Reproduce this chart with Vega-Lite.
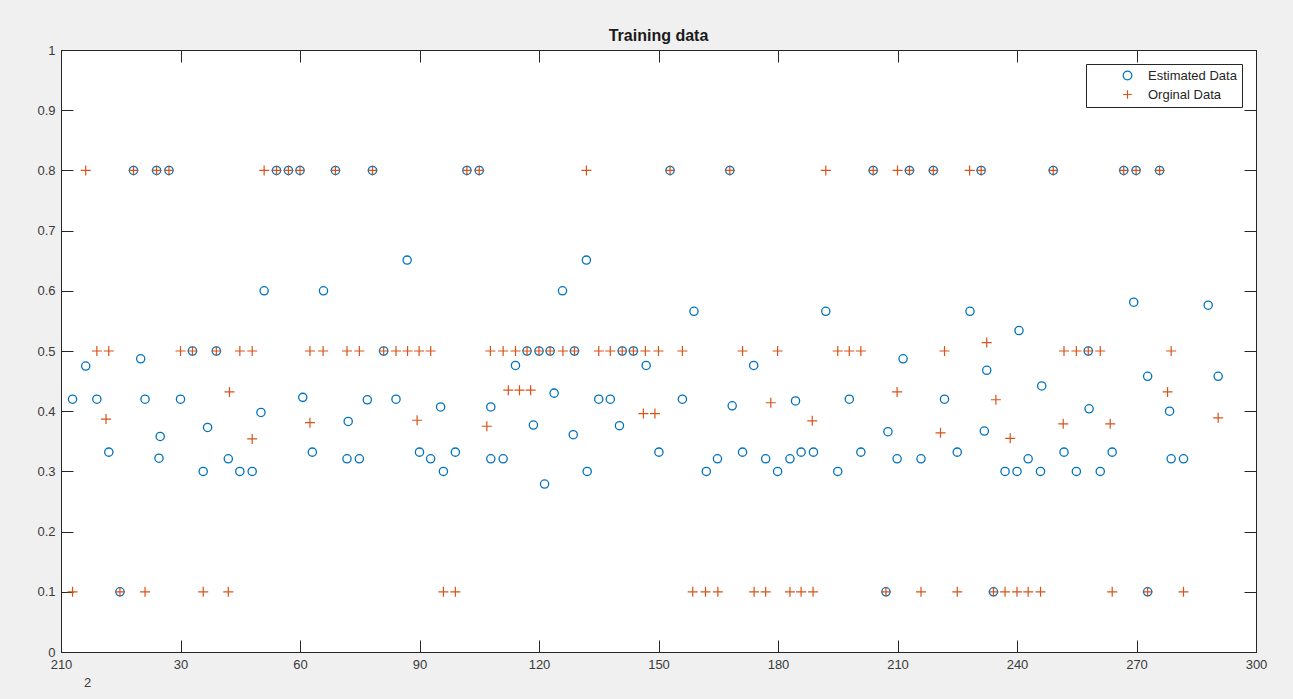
{
  "$schema": "https://vega.github.io/schema/vega-lite/v6.json",
  "width": 1195,
  "height": 602,
  "autosize": "none",
  "padding": {"left": 61, "top": 50, "right": 37, "bottom": 47},
  "background": "#f0f0f0",
  "title": {"text": "Training data", "fontSize": 16, "fontWeight": "bold", "font": "Liberation Sans", "color": "#1a1a1a", "offset": 0},
  "config": {
    "view": {"stroke": "#262626", "strokeWidth": 1, "fill": "white"},
    "axis": {
      "grid": false,
      "domainColor": "#262626",
      "tickColor": "#262626",
      "labelColor": "#3a3a3a",
      "labelFont": "Liberation Sans",
      "labelFontSize": 13,
      "labelFlush": false,
      "labelOverlap": false,
      "tickSize": -12,
      "titleFont": "Liberation Sans"
    },
    "legend": {
      "orient": "top-right",
      "offset": 14,
      "title": null,
      "strokeColor": "#262626",
      "fillColor": "white",
      "padding": 5,
      "labelFont": "Liberation Sans",
      "labelFontSize": 13,
      "labelColor": "#262626",
      "symbolSize": 75,
      "symbolStrokeWidth": 1.2,
      "symbolOffset": 30,
      "labelOffset": 14,
      "rowPadding": 4,
      "cornerRadius": 0
    }
  },
  "datasets": {
    "est": [
      {"x":2.9,"y":0.42},{"x":6.2,"y":0.475},{"x":9,"y":0.42},{"x":12,"y":0.332},{"x":14.8,"y":0.1},{"x":18.2,"y":0.8},{"x":20,"y":0.487},{"x":21.1,"y":0.42},{"x":24,"y":0.8},{"x":24.6,"y":0.322},{"x":24.9,"y":0.358},{"x":27.1,"y":0.8},{"x":30,"y":0.42},{"x":33,"y":0.5},{"x":35.7,"y":0.3},{"x":36.8,"y":0.373},{"x":39,"y":0.5},{"x":42,"y":0.321},{"x":44.9,"y":0.3},{"x":48,"y":0.3},{"x":50.2,"y":0.398},{"x":51,"y":0.6},{"x":54.1,"y":0.8},{"x":57.1,"y":0.8},{"x":60,"y":0.8},{"x":60.7,"y":0.423},{"x":63.1,"y":0.332},{"x":65.9,"y":0.6},{"x":68.9,"y":0.8},{"x":71.8,"y":0.321},{"x":72.1,"y":0.383},{"x":74.9,"y":0.321},{"x":76.9,"y":0.419},{"x":78.2,"y":0.8},{"x":81,"y":0.5},{"x":84.1,"y":0.42},{"x":86.9,"y":0.651},{"x":90,"y":0.332},{"x":92.8,"y":0.321},{"x":95.3,"y":0.407},{"x":96,"y":0.3},{"x":99,"y":0.332},{"x":101.9,"y":0.8},{"x":105,"y":0.8},{"x":107.9,"y":0.407},{"x":107.9,"y":0.321},{"x":111,"y":0.321},{"x":114.1,"y":0.476},{"x":117,"y":0.5},{"x":118.6,"y":0.377},{"x":120,"y":0.5},{"x":121.4,"y":0.279},{"x":122.8,"y":0.5},{"x":123.8,"y":0.43},{"x":125.9,"y":0.6},{"x":128.6,"y":0.361},{"x":128.9,"y":0.5},{"x":131.9,"y":0.651},{"x":132.1,"y":0.3},{"x":135,"y":0.42},{"x":137.9,"y":0.42},{"x":140.2,"y":0.376},{"x":140.9,"y":0.5},{"x":143.7,"y":0.5},{"x":146.9,"y":0.476},{"x":150.1,"y":0.332},{"x":152.9,"y":0.8},{"x":156,"y":0.42},{"x":158.9,"y":0.566},{"x":162,"y":0.3},{"x":164.8,"y":0.321},{"x":167.9,"y":0.8},{"x":168.5,"y":0.409},{"x":171.1,"y":0.332},{"x":173.9,"y":0.476},{"x":176.9,"y":0.321},{"x":179.9,"y":0.3},{"x":183,"y":0.321},{"x":184.4,"y":0.417},{"x":185.8,"y":0.332},{"x":188.9,"y":0.332},{"x":192,"y":0.566},{"x":195,"y":0.3},{"x":197.9,"y":0.42},{"x":200.8,"y":0.332},{"x":203.9,"y":0.8},{"x":207.1,"y":0.1},{"x":207.6,"y":0.366},{"x":209.9,"y":0.321},{"x":211.4,"y":0.487},{"x":213,"y":0.8},{"x":215.9,"y":0.321},{"x":219,"y":0.8},{"x":221.8,"y":0.42},{"x":225,"y":0.332},{"x":228.2,"y":0.566},{"x":231,"y":0.8},{"x":231.8,"y":0.367},{"x":232.4,"y":0.468},{"x":234.1,"y":0.1},{"x":237,"y":0.3},{"x":240,"y":0.3},{"x":240.5,"y":0.534},{"x":242.8,"y":0.321},{"x":245.9,"y":0.3},{"x":246.2,"y":0.442},{"x":249.1,"y":0.8},{"x":251.8,"y":0.332},{"x":254.9,"y":0.3},{"x":257.9,"y":0.5},{"x":258.1,"y":0.404},{"x":260.9,"y":0.3},{"x":263.9,"y":0.332},{"x":266.8,"y":0.8},{"x":269.3,"y":0.581},{"x":269.9,"y":0.8},{"x":272.8,"y":0.458},{"x":272.8,"y":0.1},{"x":275.8,"y":0.8},{"x":278.3,"y":0.4},{"x":278.7,"y":0.321},{"x":281.8,"y":0.321},{"x":288,"y":0.576},{"x":290.5,"y":0.458}
    ],
    "orig": [
      {"x":2.9,"y":0.1},{"x":6.2,"y":0.8},{"x":9,"y":0.5},{"x":11.3,"y":0.387},{"x":12,"y":0.5},{"x":14.8,"y":0.1},{"x":18.2,"y":0.8},{"x":21.1,"y":0.1},{"x":24,"y":0.8},{"x":27.1,"y":0.8},{"x":30,"y":0.5},{"x":33,"y":0.5},{"x":35.7,"y":0.1},{"x":39,"y":0.5},{"x":42,"y":0.1},{"x":42.3,"y":0.432},{"x":44.9,"y":0.5},{"x":48,"y":0.5},{"x":48,"y":0.354},{"x":51,"y":0.8},{"x":54.1,"y":0.8},{"x":57.1,"y":0.8},{"x":60,"y":0.8},{"x":62.5,"y":0.5},{"x":62.5,"y":0.381},{"x":65.8,"y":0.5},{"x":68.9,"y":0.8},{"x":71.8,"y":0.5},{"x":74.9,"y":0.5},{"x":78.2,"y":0.8},{"x":81,"y":0.5},{"x":84.1,"y":0.5},{"x":87,"y":0.5},{"x":89.4,"y":0.385},{"x":89.9,"y":0.5},{"x":92.8,"y":0.5},{"x":96,"y":0.1},{"x":99,"y":0.1},{"x":101.9,"y":0.8},{"x":105,"y":0.8},{"x":106.9,"y":0.375},{"x":107.8,"y":0.5},{"x":111,"y":0.5},{"x":112.3,"y":0.435},{"x":114.1,"y":0.5},{"x":115.1,"y":0.435},{"x":117,"y":0.5},{"x":117.9,"y":0.435},{"x":120,"y":0.5},{"x":122.8,"y":0.5},{"x":126,"y":0.5},{"x":128.9,"y":0.5},{"x":131.9,"y":0.8},{"x":135,"y":0.5},{"x":137.9,"y":0.5},{"x":140.9,"y":0.5},{"x":143.7,"y":0.5},{"x":146.2,"y":0.396},{"x":146.7,"y":0.5},{"x":149.1,"y":0.396},{"x":150,"y":0.5},{"x":152.9,"y":0.8},{"x":156,"y":0.5},{"x":158.6,"y":0.1},{"x":161.8,"y":0.1},{"x":164.9,"y":0.1},{"x":167.9,"y":0.8},{"x":171.1,"y":0.5},{"x":174,"y":0.1},{"x":176.9,"y":0.1},{"x":178.2,"y":0.414},{"x":179.9,"y":0.5},{"x":183,"y":0.1},{"x":185.8,"y":0.1},{"x":188.6,"y":0.384},{"x":188.8,"y":0.1},{"x":192,"y":0.8},{"x":195,"y":0.5},{"x":197.9,"y":0.5},{"x":200.8,"y":0.5},{"x":203.9,"y":0.8},{"x":207.1,"y":0.1},{"x":209.9,"y":0.432},{"x":210,"y":0.8},{"x":213,"y":0.8},{"x":215.9,"y":0.1},{"x":219,"y":0.8},{"x":220.8,"y":0.364},{"x":221.8,"y":0.5},{"x":225,"y":0.1},{"x":228.1,"y":0.8},{"x":231,"y":0.8},{"x":232.4,"y":0.514},{"x":234.1,"y":0.1},{"x":234.7,"y":0.419},{"x":237,"y":0.1},{"x":238.3,"y":0.355},{"x":240,"y":0.1},{"x":242.8,"y":0.1},{"x":245.9,"y":0.1},{"x":249.1,"y":0.8},{"x":251.6,"y":0.379},{"x":251.8,"y":0.5},{"x":254.9,"y":0.5},{"x":257.9,"y":0.5},{"x":260.9,"y":0.5},{"x":263.4,"y":0.379},{"x":263.9,"y":0.1},{"x":266.8,"y":0.8},{"x":269.9,"y":0.8},{"x":272.8,"y":0.1},{"x":275.8,"y":0.8},{"x":277.8,"y":0.432},{"x":278.7,"y":0.5},{"x":281.8,"y":0.1},{"x":290.5,"y":0.389}
    ]
  },
  "layer": [
    {
      "data": {"name": "est"},
      "mark": {"type": "point", "filled": false, "strokeWidth": 1.3, "size": 68, "opacity": 1},
      "encoding": {
        "x": {"field": "x", "type": "quantitative",
          "scale": {"domain": [0, 300], "nice": false, "zero": false},
          "axis": {"orient": "bottom", "values": [0,30,60,90,120,150,180,210,240,270,300],
            "labelExpr": "datum.value == 0 ? '210' : datum.label", "labelPadding": 18,
            "title": "2", "titleX": 26, "titleY": 30, "titleBaseline": "middle", "titleAlign": "center",
            "titleFontWeight": "normal", "titleFontSize": 13, "titleColor": "#3a3a3a"}},
        "y": {"field": "y", "type": "quantitative",
          "scale": {"domain": [0, 1], "nice": false, "zero": false},
          "axis": {"orient": "left", "values": [0,0.1,0.2,0.3,0.4,0.5,0.6,0.7,0.8,0.9,1],
            "format": ".1~f", "labelPadding": 18, "title": null}},
        "color": {"datum": "Estimated Data", "type": "nominal",
          "scale": {"domain": ["Estimated Data", "Orginal Data"], "range": ["#0072BD", "#D95319"]}},
        "shape": {"datum": "Estimated Data", "type": "nominal",
          "scale": {"domain": ["Estimated Data", "Orginal Data"], "range": ["circle", "M-1,0H1M0,-1V1"]}}
      }
    },
    {
      "data": {"name": "orig"},
      "mark": {"type": "point", "filled": false, "strokeWidth": 1.2, "size": 100, "opacity": 1},
      "encoding": {
        "x": {"field": "x", "type": "quantitative",
          "axis": {"orient": "top", "values": [0,30,60,90,120,150,180,210,240,270,300], "labels": false, "title": null}},
        "y": {"field": "y", "type": "quantitative",
          "axis": {"orient": "right", "values": [0,0.1,0.2,0.3,0.4,0.5,0.6,0.7,0.8,0.9,1], "labels": false, "title": null}},
        "color": {"datum": "Orginal Data", "type": "nominal"},
        "shape": {"datum": "Orginal Data", "type": "nominal"}
      }
    }
  ],
  "resolve": {"axis": {"x": "independent", "y": "independent"}}
}
